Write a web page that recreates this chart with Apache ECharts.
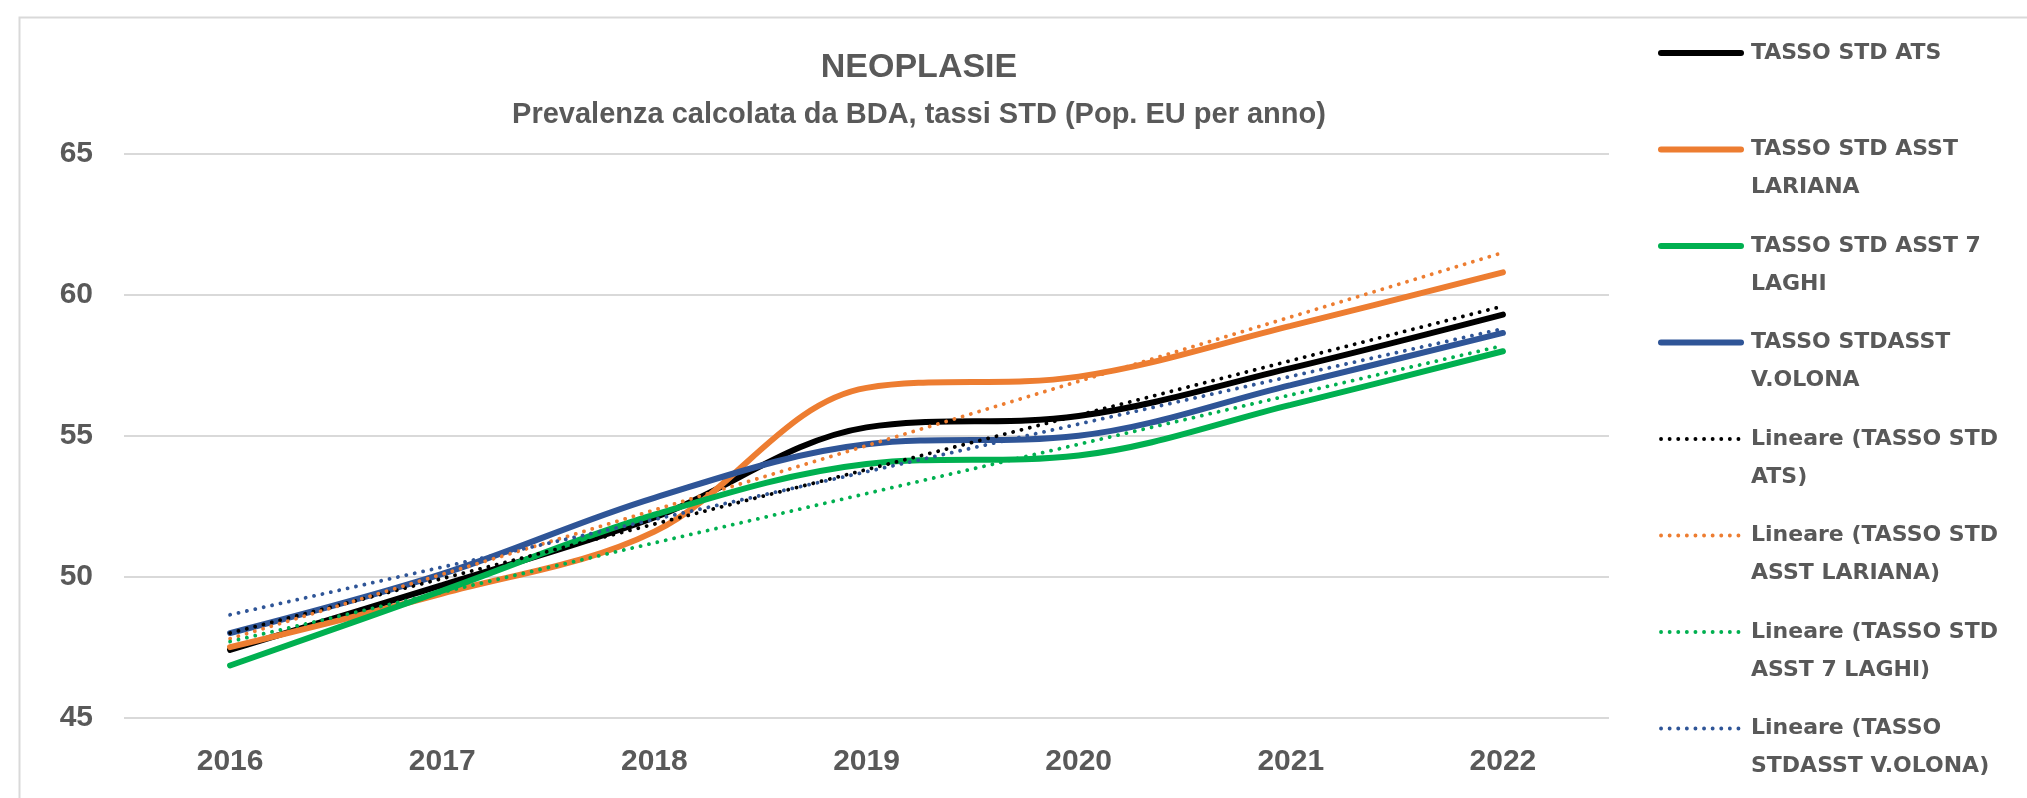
<!DOCTYPE html>
<html>
<head>
<meta charset="utf-8">
<title>NEOPLASIE</title>
<script src="https://cdn.jsdelivr.net/npm/echarts@6/dist/echarts.min.js"></script>
<style>
  html, body { margin: 0; padding: 0; background: #fff; }
  #chart { width: 2027px; height: 798px; }
</style>
</head>
<body>
<div id="chart"></div>
<script>
// anni sull'asse x
const years = ['2016', '2017', '2018', '2019', '2020', '2021', '2022'];

// tassi STD
const tassoAts = [47.4, 49.7, 52.1, 55.3, 55.7, 57.4, 59.3];
const tassoLariana = [47.5, 49.4, 51.6, 56.7, 57.1, 58.9, 60.8];
const tasso7Laghi = [46.85, 49.5, 52.2, 54.0, 54.3, 56.1, 58.0];
const tassoOlona = [48.0, 50.1, 52.8, 54.7, 55.0, 56.8, 58.65];

// linee di tendenza: valore al 2016 e al 2022
const trendAts = [48.0, 59.6];
const trendLariana = [47.8, 61.5];
const trend7Laghi = [47.7, 58.2];
const trendOlona = [48.65, 58.8];

// tacche asse y
const yTicks = [45, 50, 55, 60, 65];

const names = [
    'TASSO STD ATS',
    'TASSO STD ASST LARIANA',
    'TASSO STD ASST 7 LAGHI',
    'TASSO STDASST V.OLONA',
    'Lineare (TASSO STD ATS)',
    'Lineare (TASSO STD ASST LARIANA)',
    'Lineare (TASSO STD ASST 7 LAGHI)',
    'Lineare (TASSO STDASST V.OLONA)'
];
// testo legenda come va a capo nell'originale
const legendLabels = [
    'TASSO STD ATS',
    'TASSO STD ASST\nLARIANA',
    'TASSO STD ASST 7\nLAGHI',
    'TASSO STDASST\nV.OLONA',
    'Lineare (TASSO STD\nATS)',
    'Lineare (TASSO STD\nASST LARIANA)',
    'Lineare (TASSO STD\nASST 7 LAGHI)',
    'Lineare (TASSO\nSTDASST V.OLONA)'
];
const colors = ['#000000', '#ED7D31', '#00B050', '#2F5597'];

const textColor = '#595959';
const gridColor = '#d9d9d9';

// solo primo e ultimo anno, il resto vuoto
function trendData(ends) {
    return years.map((y, i) => i === 0 ? ends[0] : (i === years.length - 1 ? ends[1] : null));
}

function solidSeries(idx, data) {
    return {
        name: names[idx],
        type: 'line',
        data: data,
        smooth: 0.35,
        symbol: 'none',
        lineStyle: { color: colors[idx], width: 6, cap: 'round' },
        itemStyle: { color: colors[idx] }
    };
}

function trendSeries(idx, ends) {
    return {
        name: names[idx + 4],
        type: 'line',
        data: trendData(ends),
        connectNulls: true,
        symbol: 'none',
        lineStyle: { color: colors[idx], width: 3.8, type: [0.1, 8.5], cap: 'round' },
        itemStyle: { color: colors[idx] }
    };
}

const chart = echarts.init(document.getElementById('chart'));
chart.setOption({
    animation: false,
    backgroundColor: '#ffffff',
    graphic: [{
        type: 'rect',
        left: 17,
        top: 15,
        shape: { width: 2040, height: 820 },
        style: { fill: 'none', stroke: gridColor, lineWidth: 2 }
    }],
    title: {
        text: 'NEOPLASIE',
        subtext: 'Prevalenza calcolata da BDA, tassi STD (Pop. EU per anno)',
        left: 919,
        top: 51,
        textAlign: 'center',
        padding: 0,
        itemGap: 15,
        textStyle: { fontFamily: 'Liberation Sans', fontWeight: 'bold', fontSize: 34, color: textColor },
        subtextStyle: { fontFamily: 'Liberation Sans', fontWeight: 'bold', fontSize: 29, color: textColor }
    },
    legend: {
        orient: 'vertical',
        left: 1658,
        top: -4,
        padding: 0,
        itemWidth: 80,
        itemHeight: 14,
        itemGap: -17.5,
        data: names,
        formatter: function (name) {
            const lines = legendLabels[names.indexOf(name)].split('\n');
            if (lines.length === 1) lines.push('\u00a0');
            return '\u00a0\n' + lines.join('\n');
        },
        itemStyle: { opacity: 0 },
        lineStyle: { width: 'inherit' },
        textStyle: {
            fontFamily: 'DejaVu Sans',
            fontWeight: 'bold',
            fontSize: 22,
            lineHeight: 38,
            padding: [0, 0, 0, 5],
            color: textColor
        }
    },
    grid: { left: 124, right: 418, top: 154, bottom: 80.4, containLabel: false },
    xAxis: {
        type: 'category',
        data: years,
        boundaryGap: true,
        axisLine: { show: false },
        axisTick: { show: false },
        axisLabel: {
            margin: 29,
            fontFamily: 'Liberation Sans',
            fontWeight: 'bold',
            fontSize: 30,
            color: textColor
        }
    },
    yAxis: {
        type: 'value',
        min: yTicks[0],
        max: yTicks[yTicks.length - 1],
        interval: yTicks[1] - yTicks[0],
        axisLine: { show: false },
        axisTick: { show: false },
        axisLabel: {
            margin: 31,
            fontFamily: 'Liberation Sans',
            fontWeight: 'bold',
            fontSize: 30,
            color: textColor
        },
        splitLine: { lineStyle: { color: gridColor, width: 2 } }
    },
    series: [
        solidSeries(0, tassoAts),
        solidSeries(1, tassoLariana),
        solidSeries(2, tasso7Laghi),
        solidSeries(3, tassoOlona),
        trendSeries(0, trendAts),
        trendSeries(1, trendLariana),
        trendSeries(2, trend7Laghi),
        trendSeries(3, trendOlona)
    ]
});

window.addEventListener('resize', () => chart.resize());
</script>
</body>
</html>
